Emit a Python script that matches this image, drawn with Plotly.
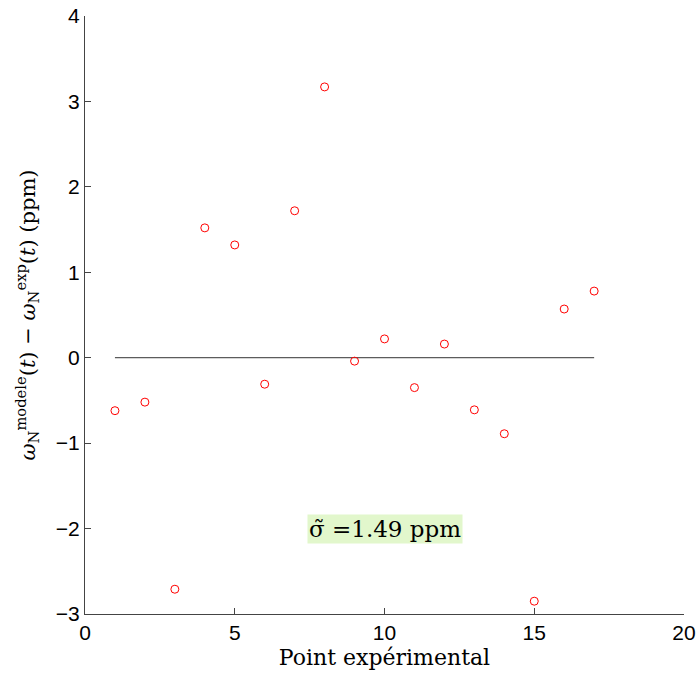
import plotly.graph_objects as go

points = list(range(1, 18))
residuals = [-0.62, -0.52, -2.71, 1.52, 1.32, -0.31, 1.72, 3.17, -0.04, 0.22,
             -0.35, 0.16, -0.61, -0.89, -2.85, 0.57, 0.78]
zero_x = [1, 17]
zero_y = [0, 0]
sigma_text = "σ̃ =1.49 ppm"
sigma_pos = (10, -2)

fig = go.Figure()
fig.add_trace(go.Scatter(x=zero_x, y=zero_y, mode="lines",
                         line=dict(color="#333333", width=1), showlegend=False))
fig.add_trace(go.Scatter(x=points, y=residuals, mode="markers",
                         marker=dict(symbol="circle-open", color="red", size=8,
                                     line=dict(width=1)),
                         showlegend=False))

fig.add_annotation(x=sigma_pos[0], y=sigma_pos[1], text=sigma_text, showarrow=False,
                   bgcolor="#e2f7cc", font=dict(family="DejaVu Serif, serif", size=23, color="black"),
                   borderpad=1)

tickfont = dict(family="Liberation Sans, Arial, sans-serif", size=21, color="black")
fig.update_xaxes(range=[0, 20], tickvals=[0, 5, 10, 15, 20], ticks="inside", ticklen=6,
                 tickcolor="#444", showline=True, linecolor="#444", linewidth=1,
                 showgrid=False, zeroline=False, tickfont=tickfont, automargin=False,
                 title=dict(text="Point expérimental", standoff=6,
                            font=dict(family="DejaVu Serif, serif", size=22, color="black")))
fig.update_yaxes(range=[-3, 4], tickvals=[-3, -2, -1, 0, 1, 2, 3, 4],
                 ticktext=["−3", "−2", "−1", "0", "1", "2", "3", "4"],
                 ticks="inside", ticklen=6,
                 tickcolor="#444", showline=True, linecolor="#444", linewidth=1,
                 showgrid=False, zeroline=False, tickfont=tickfont, automargin=False,
                 title=dict(text="<i>ω</i><sub>N</sub><sup>modele</sup>(<i>t</i>) − <i>ω</i><sub>N</sub><sup>exp</sup>(<i>t</i>) (ppm)",
                            standoff=14,
                            font=dict(family="DejaVu Serif, serif", size=21, color="black")))

fig.update_layout(width=700, height=677, plot_bgcolor="white", paper_bgcolor="white",
                  margin=dict(l=85, r=16, t=16, b=63))

fig.write_html("out.html", config={"displayModeBar": False},
               post_script="document.body.style.margin='0';document.body.style.overflow='hidden';")
